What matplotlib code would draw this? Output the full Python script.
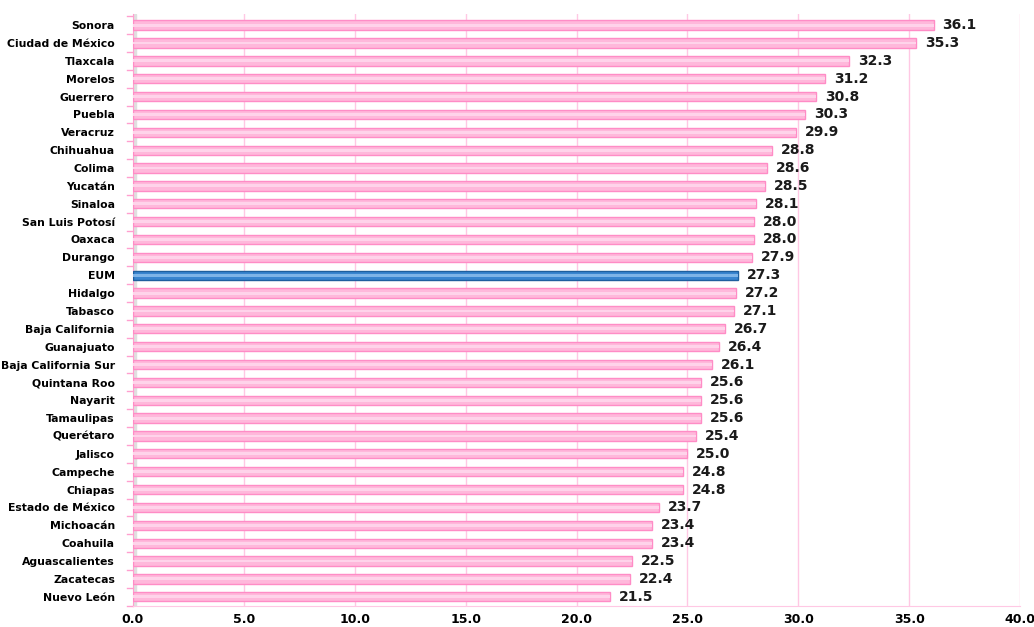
import matplotlib
matplotlib.use("Agg")
import matplotlib.pyplot as plt
from matplotlib.patches import Rectangle

states = ["Sonora", "Ciudad de México", "Tlaxcala", "Morelos", "Guerrero", "Puebla",
          "Veracruz", "Chihuahua", "Colima", "Yucatán", "Sinaloa", "San Luis Potosí",
          "Oaxaca", "Durango", "EUM", "Hidalgo", "Tabasco", "Baja California",
          "Guanajuato", "Baja California Sur", "Quintana Roo", "Nayarit", "Tamaulipas",
          "Querétaro", "Jalisco", "Campeche", "Chiapas", "Estado de México",
          "Michoacán", "Coahuila", "Aguascalientes", "Zacatecas", "Nuevo León"]
values = [36.1, 35.3, 32.3, 31.2, 30.8, 30.3, 29.9, 28.8, 28.6, 28.5, 28.1, 28.0,
          28.0, 27.9, 27.3, 27.2, 27.1, 26.7, 26.4, 26.1, 25.6, 25.6, 25.6, 25.4,
          25.0, 24.8, 24.8, 23.7, 23.4, 23.4, 22.5, 22.4, 21.5]
xticks = [0, 5, 10, 15, 20, 25, 30, 35, 40]

plt.rcParams['font.family'] = ['DejaVu Sans']
fig = plt.figure(figsize=(10.34, 6.27), dpi=100)
ax = fig.add_axes([0.1286, 0.034, 0.858, 0.943])

n = len(states)
ypos = list(range(n))
pink_face = '#FFB8DB'
pink_edge = '#FF8CC6'
blue_face = '#3A85D0'
blue_edge = '#1F5F9E'
faces = [blue_face if s == 'EUM' else pink_face for s in states]
edges = [blue_edge if s == 'EUM' else pink_edge for s in states]

ax.barh(ypos, values, height=0.52, color=faces, edgecolor=edges, linewidth=1.0, zorder=3)
# highlight stripe for 3D look
ax.barh(ypos, values, height=0.16, color=['#7FB4E8' if s == 'EUM' else '#FFD3EA' for s in states],
        edgecolor='none', zorder=4)

for y, v in zip(ypos, values):
    ax.text(v + 0.4, y, f"{v:.1f}", va='center', ha='left', fontsize=10,
            fontweight='bold', color='#1a1a1a', zorder=5)

ax.set_xlim(0, 40)
ax.set_ylim(n - 0.5, -0.6)
ax.set_xticks(xticks)
ax.set_xticklabels([f"{t:.1f}" for t in xticks], fontsize=9, fontweight='bold')
ax.set_yticks(ypos)
ax.set_yticklabels(states, fontsize=7.8, fontweight='bold')

ax.xaxis.grid(True, color='#FFC8E4', linewidth=1.0, zorder=0)
ax.set_axisbelow(True)
for side in ['top', 'right']:
    ax.spines[side].set_visible(False)
ax.spines['left'].set_color('#FF9FCF')
ax.spines['bottom'].set_color('#FFC8E4')
ax.tick_params(axis='x', length=0, pad=5)
ax.tick_params(axis='y', length=0, pad=13)
# small tick marks between categories
for y in [i - 0.5 for i in range(n + 1)]:
    ax.plot([-0.28, 0], [y, y], color='#FF9FCF', lw=1, clip_on=False, zorder=2)
# gray left wall
ax.add_patch(Rectangle((0, -0.6), 0.12, n + 0.1, color='#E0E0E0', zorder=1))

fig.savefig('out.png', dpi=100)
